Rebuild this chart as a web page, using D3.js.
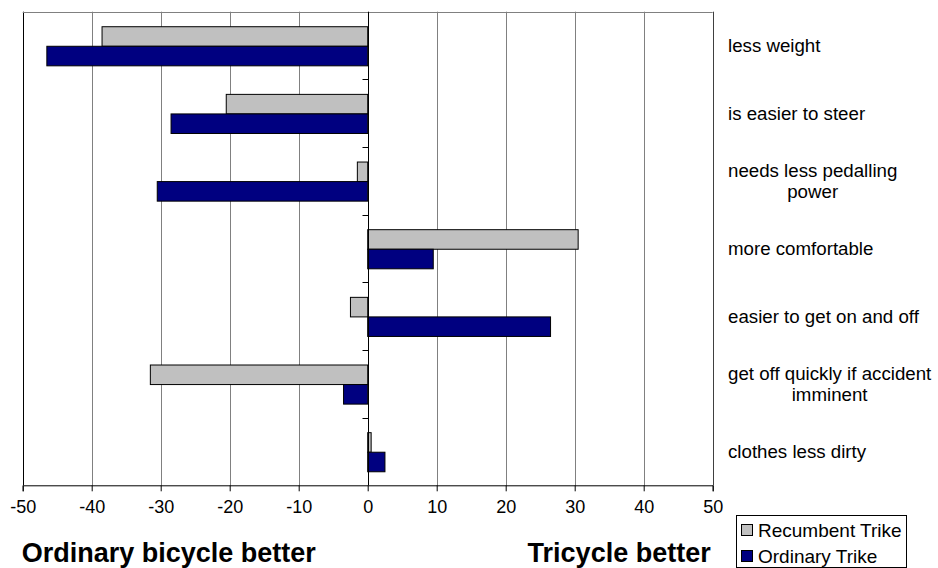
<!DOCTYPE html>
<html>
<head>
<meta charset="utf-8">
<script src="https://cdn.jsdelivr.net/npm/d3@7/dist/d3.min.js"></script>
<style>
  html, body { margin: 0; padding: 0; background: #fff; }
  svg text { font-family: Arial, "Liberation Sans", sans-serif; fill: #000; }
</style>
</head>
<body>
<svg id="chart" width="938" height="568"></svg>
<script>
// Survey statements, top to bottom
const categories = [
  ["less weight"],
  ["is easier to steer"],
  ["needs less pedalling", "power"],
  ["more comfortable"],
  ["easier to get on and off"],
  ["get off quickly if accident", "imminent"],
  ["clothes less dirty"]
];
const seriesNames = ["Recumbent Trike", "Ordinary Trike"];
const recumbentTrike = [-38.5, -20.5, -1.5, 30.5, -2.5, -31.5, 0.5];
const ordinaryTrike  = [-46.5, -28.5, -30.5, 9.5, 26.5, -3.5, 2.5];
const xTicks = [-50, -40, -30, -20, -10, 0, 10, 20, 30, 40, 50];
const sideLabels = ["Ordinary bicycle better", "Tricycle better"];

const colors = ["#C0C0C0", "#000080"];
const series = [recumbentTrike, ordinaryTrike];

const svg = d3.select("#chart");
const plot = { left: 22.7, right: 712.7, top: 11.7, bottom: 485.3 };

const x = d3.scaleLinear().domain([-50, 50]).range([plot.left, plot.right]);
const y = d3.scaleBand().domain(d3.range(categories.length)).range([plot.top, plot.bottom]);
const band = y.bandwidth();
const barH = band * 0.289;
const groupOffset = band * 0.222;

// vertical gridlines; the outer ones frame the plot
svg.append("g").selectAll("line")
  .data(xTicks.filter(t => t !== 0))
  .join("line")
  .attr("x1", d => Math.round(x(d)) + 0.5).attr("x2", d => Math.round(x(d)) + 0.5)
  .attr("y1", plot.top).attr("y2", plot.bottom)
  .attr("stroke", d => (d === -50 ? "#000" : d === 50 ? "#404040" : "#808080"))
  .attr("stroke-width", 1);

// top border of the plot area
svg.append("line")
  .attr("x1", plot.left).attr("x2", plot.right)
  .attr("y1", Math.round(plot.top) + 0.5).attr("y2", Math.round(plot.top) + 0.5)
  .attr("stroke", "#808080");

// bars
series.forEach((vals, si) => {
  svg.append("g").selectAll("rect")
    .data(vals)
    .join("rect")
    .attr("x", d => x(Math.min(0, d)))
    .attr("width", d => Math.abs(x(d) - x(0)))
    .attr("y", (d, i) => y(i) + groupOffset + si * barH)
    .attr("height", barH)
    .attr("fill", colors[si])
    .attr("stroke", "#000")
    .attr("stroke-width", 1);
});

// x axis (plain hyphen for negatives)
const xAxis = d3.axisBottom(x).tickValues(xTicks).tickSize(6).tickPadding(9)
  .tickFormat(d => String(d));
const gx = svg.append("g")
  .attr("transform", `translate(0,${plot.bottom})`)
  .call(xAxis);
gx.select(".domain").attr("stroke", "#000");
gx.selectAll(".tick line").attr("stroke", "#000");
gx.selectAll(".tick text")
  .style("font-size", "18px")
  .style("font-family", "Arial, 'Liberation Sans', sans-serif")
  .attr("fill", "#000");

// category axis at zero
const x0 = Math.round(x(0)) + 0.5;
svg.append("line")
  .attr("x1", x0).attr("x2", x0)
  .attr("y1", plot.top).attr("y2", plot.bottom)
  .attr("stroke", "#000");
svg.append("g").selectAll("line")
  .data(d3.range(1, categories.length))
  .join("line")
  .attr("x1", x0 - 6).attr("x2", x0)
  .attr("y1", d => Math.round(y(d)) + 0.5).attr("y2", d => Math.round(y(d)) + 0.5)
  .attr("stroke", "#000");

// category labels on the right, lines centred on the longest line
const labelLeft = 728;
const labelSize = "18.7px";
const lineH = 21.6;
const measure = svg.append("text").style("font-size", labelSize).attr("visibility", "hidden");
categories.forEach((lines, i) => {
  const widths = lines.map(l => { measure.text(l); return measure.node().getComputedTextLength(); });
  const cx = labelLeft + d3.max(widths) / 2;
  const cy = y(i) + band / 2 + 6.8;
  const t = svg.append("text")
    .attr("text-anchor", "middle")
    .style("font-size", labelSize);
  lines.forEach((l, li) => {
    t.append("tspan")
      .attr("x", cx)
      .attr("y", cy + (li - (lines.length - 1) / 2) * lineH)
      .text(l);
  });
});
measure.remove();

// side captions
svg.append("text")
  .attr("x", plot.left - 1).attr("y", 561.5)
  .style("font-size", "27px").style("font-weight", "bold")
  .text(sideLabels[0]);
svg.append("text")
  .attr("x", plot.right - 2).attr("y", 561.5)
  .attr("text-anchor", "end")
  .style("font-size", "27px").style("font-weight", "bold")
  .text(sideLabels[1]);

// legend
const lg = svg.append("g");
lg.append("rect")
  .attr("x", 736.5).attr("y", 515.5).attr("width", 170).attr("height", 52)
  .attr("fill", "#fff").attr("stroke", "#000");
seriesNames.forEach((name, i) => {
  const sy = 524.5 + i * 26;
  lg.append("rect")
    .attr("x", 741.5).attr("y", sy).attr("width", 11).attr("height", 11)
    .attr("fill", colors[i]).attr("stroke", "#000");
  lg.append("text")
    .attr("x", 758).attr("y", sy + 12)
    .style("font-size", "19px")
    .text(name);
});
</script>
</body>
</html>
